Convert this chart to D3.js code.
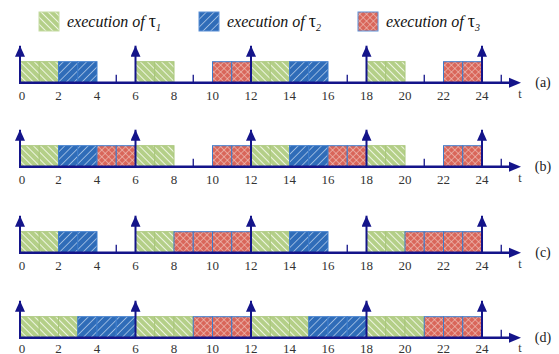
<!DOCTYPE html>
<html>
<head>
<meta charset="utf-8">
<script src="https://cdn.jsdelivr.net/npm/d3@7"></script>
<style>
  body { margin: 0; background: #fff; }
  svg { display: block; }
</style>
</head>
<body>
<svg id="chart" width="559" height="354"></svg>
<script>
const width = 559;
const height = 354;

// data: [task, start, end]
const rowNames = ["(a)", "(b)", "(c)", "(d)"];
const scheduleA = [[1, 0, 2], [2, 2, 4], [1, 6, 8], [3, 10, 12], [1, 12, 14], [2, 14, 16], [1, 18, 20], [3, 22, 24]];
const scheduleB = [[1, 0, 2], [2, 2, 4], [3, 4, 6], [1, 6, 8], [3, 10, 12], [1, 12, 14], [2, 14, 16], [3, 16, 18], [1, 18, 20], [3, 22, 24]];
const scheduleC = [[1, 0, 2], [2, 2, 4], [1, 6, 8], [3, 8, 12], [1, 12, 14], [2, 14, 16], [1, 18, 20], [3, 20, 24]];
const scheduleD = [[1, 0, 3], [2, 3, 6], [1, 6, 9], [3, 9, 12], [1, 12, 15], [2, 15, 18], [1, 18, 21], [3, 21, 24]];
const releases = [0, 6, 12, 18, 24];
const tickLabels = [0, 2, 4, 6, 8, 10, 12, 14, 16, 18, 20, 22, 24];
const minorTicks = [1, 3, 5, 7, 9, 11, 13, 15, 17, 19, 21, 23, 25];
const legendItems = [
  { task: 1, sub: "1" },
  { task: 2, sub: "2" },
  { task: 3, sub: "3" }
];

const schedules = [scheduleA, scheduleB, scheduleC, scheduleD];
const rowY = [82.7, 166.7, 252.7, 337.7];

const serif = "Liberation Serif";
const navy = "#14148a";
const fills = { 1: "url(#pGreen)", 2: "url(#pBlue)", 3: "url(#pRed)" };
const borders = { 1: "#a8c67a", 2: "#3d7ccc", 3: "#3d7ccc" };

const svg = d3.select("#chart");
const x = d3.scaleLinear().domain([0, 24]).range([20, 482]);

// patterns
const defs = svg.append("defs");
const pg = defs.append("pattern").attr("id", "pGreen").attr("patternUnits", "userSpaceOnUse")
  .attr("width", 5).attr("height", 5).attr("patternTransform", "rotate(-45)");
pg.append("rect").attr("width", 5).attr("height", 5).attr("fill", "#b4cf88");
pg.append("line").attr("x1", 0).attr("y1", 0).attr("x2", 0).attr("y2", 5)
  .attr("stroke", "#eef5e2").attr("stroke-width", 2);

const pb = defs.append("pattern").attr("id", "pBlue").attr("patternUnits", "userSpaceOnUse")
  .attr("width", 5.5).attr("height", 5.5).attr("patternTransform", "rotate(45)");
pb.append("rect").attr("width", 5.5).attr("height", 5.5).attr("fill", "#2f6cb8");
pb.append("line").attr("x1", 0).attr("y1", 0).attr("x2", 0).attr("y2", 5.5)
  .attr("stroke", "#c9dcf2").attr("stroke-width", 1.3);

const pr = defs.append("pattern").attr("id", "pRed").attr("patternUnits", "userSpaceOnUse")
  .attr("width", 4.8).attr("height", 4.8).attr("patternTransform", "rotate(45)");
pr.append("rect").attr("width", 4.8).attr("height", 4.8).attr("fill", "#d9665a");
pr.append("line").attr("x1", 0).attr("y1", 0).attr("x2", 0).attr("y2", 4.8)
  .attr("stroke", "#f3cfc8").attr("stroke-width", 1.1);
pr.append("line").attr("x1", 0).attr("y1", 0).attr("x2", 4.8).attr("y2", 0)
  .attr("stroke", "#f3cfc8").attr("stroke-width", 1.1);

defs.append("marker").attr("id", "arrowUp").attr("viewBox", "0 0 10 11")
  .attr("refX", 5).attr("refY", 0).attr("markerWidth", 10).attr("markerHeight", 11)
  .attr("markerUnits", "userSpaceOnUse").attr("orient", "0")
  .append("path").attr("d", "M0,11 L5,0 L10,11 Z").attr("fill", navy);

const boxH = 21;

schedules.forEach((sched, i) => {
  const y0 = rowY[i];
  const g = svg.append("g").attr("class", "row");

  // minor ticks (hidden under boxes)
  g.selectAll(".mt").data(minorTicks).enter().append("line")
    .attr("x1", d => x(d)).attr("x2", d => x(d))
    .attr("y1", y0).attr("y2", y0 - 8)
    .attr("stroke", navy).attr("stroke-width", 1.3);

  // unit cells
  const cells = sched.flatMap(([task, s, e]) => d3.range(s, e).map(t => ({ task, t })));
  g.selectAll(".cell").data(cells).enter().append("rect")
    .attr("x", d => x(d.t)).attr("y", y0 - boxH)
    .attr("width", x(1) - x(0)).attr("height", boxH)
    .attr("fill", d => fills[d.task])
    .attr("stroke", d => borders[d.task]).attr("stroke-width", 1);

  // axis line
  g.append("line").attr("x1", x(0) - 1).attr("x2", 512).attr("y1", y0).attr("y2", y0)
    .attr("stroke", navy).attr("stroke-width", 2.4);
  g.append("path").attr("d", `M509,${y0 - 5} L521,${y0} L509,${y0 + 5} Z`).attr("fill", navy);

  // release arrows
  g.selectAll(".rel").data(releases).enter().append("line")
    .attr("x1", d => x(d)).attr("x2", d => x(d))
    .attr("y1", y0).attr("y2", y0 - 37)
    .attr("stroke", navy).attr("stroke-width", 2)
    .attr("marker-end", "url(#arrowUp)");

  // tick labels
  g.selectAll(".tl").data(tickLabels).enter().append("text")
    .attr("x", d => x(d) + (d === 0 ? 2 : 0)).attr("y", Math.min(y0 + 17, 352.5))
    .attr("text-anchor", "middle")
    .style("font-family", serif).attr("font-size", 13)
    .attr("fill", "#333").text(d => d);

  g.append("text").attr("x", 520).attr("y", Math.min(y0 + 15, 352))
    .attr("text-anchor", "middle")
    .style("font-family", serif).attr("font-size", 12)
    .attr("fill", "#333").text("t");

  g.append("text").attr("x", 543).attr("y", y0 + 4)
    .attr("text-anchor", "middle")
    .style("font-family", serif).attr("font-size", 14)
    .attr("fill", "#222").text(rowNames[i]);
});

// legend
const legendX = [39, 199, 358];
const legend = svg.append("g").attr("id", "legend");
legendItems.forEach((d, i) => {
  legend.append("rect").attr("x", legendX[i]).attr("y", 12).attr("width", 20).attr("height", 19)
    .attr("fill", fills[d.task]).attr("stroke", d.task === 1 ? "#c5dba3" : "#5b8fd6").attr("stroke-width", 1);
  const t = legend.append("text").attr("x", legendX[i] + 28).attr("y", 27)
    .style("font-family", serif).attr("font-style", "italic")
    .attr("font-size", 16).attr("fill", "#111");
  t.append("tspan").text("execution of ");
  t.append("tspan").attr("font-style", "normal").attr("font-size", 18).text("τ");
  t.append("tspan").attr("font-size", 10).attr("dy", 4).text(d.sub);
});
</script>
</body>
</html>
